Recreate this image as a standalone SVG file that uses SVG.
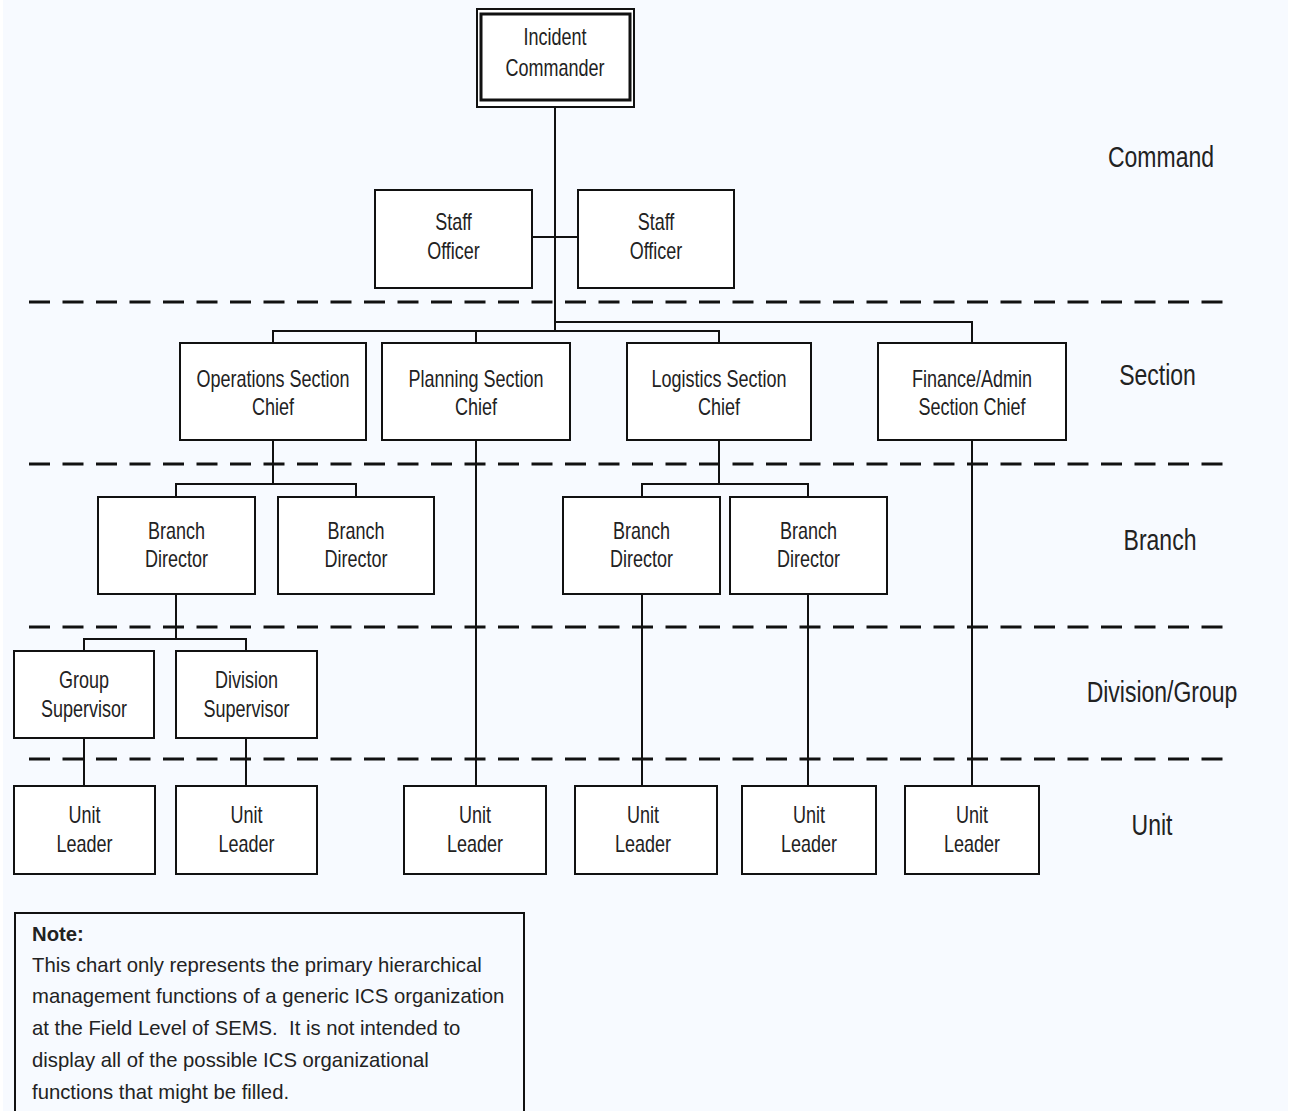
<svg xmlns="http://www.w3.org/2000/svg" width="1293" height="1111" viewBox="0 0 1293 1111">
<style>
.box{fill:#fff;stroke:#111;stroke-width:2}
.ln{fill:none;stroke:#111;stroke-width:2}
.dash{fill:none;stroke:#111;stroke-width:3;stroke-dasharray:21 12.5}
.t{font-family:"Liberation Sans",Arial,sans-serif;font-size:18px;fill:#222;text-anchor:middle}
.lvl{font-family:"Liberation Sans",Arial,sans-serif;font-size:23px;fill:#222;text-anchor:middle}
.note{font-family:"Liberation Sans",Arial,sans-serif;font-size:20.3px;fill:#222}
</style>
<rect x="0" y="0" width="1293" height="1111" fill="#fff"/>
<rect x="3" y="0" width="1285" height="1111" fill="#f7faff"/>

<g id="dashed-levels">
<line class="dash" x1="29" y1="302" x2="1223" y2="302"/>
<line class="dash" x1="29" y1="464" x2="1223" y2="464"/>
<line class="dash" x1="29" y1="627" x2="1223" y2="627"/>
<line class="dash" x1="29" y1="759" x2="1223" y2="759"/>
</g>

<g id="connectors">
<path class="ln" d="M555 107V331"/>
<path class="ln" d="M532 237H578"/>
<path class="ln" d="M555 322H972V343"/>
<path class="ln" d="M273 343V331H719V343"/>
<path class="ln" d="M476 331V343"/>
<path class="ln" d="M273 440V484"/>
<path class="ln" d="M176 497V484H356V497"/>
<path class="ln" d="M719 440V484"/>
<path class="ln" d="M642 497V484H808V497"/>
<path class="ln" d="M476 440V786"/>
<path class="ln" d="M972 440V786"/>
<path class="ln" d="M176 594V639"/>
<path class="ln" d="M84 651V639H246V651"/>
<path class="ln" d="M84 738V786"/>
<path class="ln" d="M246 738V786"/>
<path class="ln" d="M642 594V786"/>
<path class="ln" d="M808 594V786"/>
</g>

<g id="incident-commander">
<rect x="477" y="9" width="157" height="98" fill="#fff" stroke="#111" stroke-width="2"/>
<rect x="481" y="14" width="149" height="86" fill="#fff" stroke="#111" stroke-width="3"/>
<text class="t" transform="translate(555,45) scale(1,1.3)"><tspan x="0" y="0">Incident</tspan><tspan x="0" y="24">Commander</tspan></text>
</g>

<g id="staff-officer-1">
<rect class="box" x="375" y="190" width="157" height="98"/>
<text class="t" transform="translate(453.5,230) scale(1,1.3)"><tspan x="0" y="0">Staff</tspan><tspan x="0" y="22.3">Officer</tspan></text>
</g>
<g id="staff-officer-2">
<rect class="box" x="578" y="190" width="156" height="98"/>
<text class="t" transform="translate(656,230) scale(1,1.3)"><tspan x="0" y="0">Staff</tspan><tspan x="0" y="22.3">Officer</tspan></text>
</g>

<g id="operations-section-chief">
<rect class="box" x="180" y="343" width="186" height="97"/>
<text class="t" transform="translate(273,387) scale(1,1.3)"><tspan x="0" y="0">Operations Section</tspan><tspan x="0" y="21.5">Chief</tspan></text>
</g>
<g id="planning-section-chief">
<rect class="box" x="382" y="343" width="188" height="97"/>
<text class="t" transform="translate(476,387) scale(1,1.3)"><tspan x="0" y="0">Planning Section</tspan><tspan x="0" y="21.5">Chief</tspan></text>
</g>
<g id="logistics-section-chief">
<rect class="box" x="627" y="343" width="184" height="97"/>
<text class="t" transform="translate(719,387) scale(1,1.3)"><tspan x="0" y="0">Logistics Section</tspan><tspan x="0" y="21.5">Chief</tspan></text>
</g>
<g id="finance-admin-section-chief">
<rect class="box" x="878" y="343" width="188" height="97"/>
<text class="t" transform="translate(972,387) scale(1,1.3)"><tspan x="0" y="0">Finance/Admin</tspan><tspan x="0" y="21.5">Section Chief</tspan></text>
</g>

<g id="branch-director-1">
<rect class="box" x="98" y="497" width="157" height="97"/>
<text class="t" transform="translate(176.5,539) scale(1,1.3)"><tspan x="0" y="0">Branch</tspan><tspan x="0" y="21.5">Director</tspan></text>
</g>
<g id="branch-director-2">
<rect class="box" x="278" y="497" width="156" height="97"/>
<text class="t" transform="translate(356,539) scale(1,1.3)"><tspan x="0" y="0">Branch</tspan><tspan x="0" y="21.5">Director</tspan></text>
</g>
<g id="branch-director-3">
<rect class="box" x="563" y="497" width="157" height="97"/>
<text class="t" transform="translate(641.5,539) scale(1,1.3)"><tspan x="0" y="0">Branch</tspan><tspan x="0" y="21.5">Director</tspan></text>
</g>
<g id="branch-director-4">
<rect class="box" x="730" y="497" width="157" height="97"/>
<text class="t" transform="translate(808.5,539) scale(1,1.3)"><tspan x="0" y="0">Branch</tspan><tspan x="0" y="21.5">Director</tspan></text>
</g>

<g id="group-supervisor">
<rect class="box" x="14" y="651" width="140" height="87"/>
<text class="t" transform="translate(84,688) scale(1,1.3)"><tspan x="0" y="0">Group</tspan><tspan x="0" y="22.3">Supervisor</tspan></text>
</g>
<g id="division-supervisor">
<rect class="box" x="176" y="651" width="141" height="87"/>
<text class="t" transform="translate(246.5,688) scale(1,1.3)"><tspan x="0" y="0">Division</tspan><tspan x="0" y="22.3">Supervisor</tspan></text>
</g>

<g id="unit-leader-1">
<rect class="box" x="14" y="786" width="141" height="88"/>
<text class="t" transform="translate(84.5,823) scale(1,1.3)"><tspan x="0" y="0">Unit</tspan><tspan x="0" y="22.3">Leader</tspan></text>
</g>
<g id="unit-leader-2">
<rect class="box" x="176" y="786" width="141" height="88"/>
<text class="t" transform="translate(246.5,823) scale(1,1.3)"><tspan x="0" y="0">Unit</tspan><tspan x="0" y="22.3">Leader</tspan></text>
</g>
<g id="unit-leader-3">
<rect class="box" x="404" y="786" width="142" height="88"/>
<text class="t" transform="translate(475,823) scale(1,1.3)"><tspan x="0" y="0">Unit</tspan><tspan x="0" y="22.3">Leader</tspan></text>
</g>
<g id="unit-leader-4">
<rect class="box" x="575" y="786" width="142" height="88"/>
<text class="t" transform="translate(643,823) scale(1,1.3)"><tspan x="0" y="0">Unit</tspan><tspan x="0" y="22.3">Leader</tspan></text>
</g>
<g id="unit-leader-5">
<rect class="box" x="742" y="786" width="134" height="88"/>
<text class="t" transform="translate(809,823) scale(1,1.3)"><tspan x="0" y="0">Unit</tspan><tspan x="0" y="22.3">Leader</tspan></text>
</g>
<g id="unit-leader-6">
<rect class="box" x="905" y="786" width="134" height="88"/>
<text class="t" transform="translate(972,823) scale(1,1.3)"><tspan x="0" y="0">Unit</tspan><tspan x="0" y="22.3">Leader</tspan></text>
</g>

<g id="level-labels">
<text class="lvl" transform="translate(1161,167) scale(1,1.3)">Command</text>
<text class="lvl" transform="translate(1157.5,385) scale(1,1.3)">Section</text>
<text class="lvl" transform="translate(1160,550) scale(1,1.3)">Branch</text>
<text class="lvl" transform="translate(1162,702) scale(1,1.3)">Division/Group</text>
<text class="lvl" transform="translate(1152,835) scale(1,1.3)">Unit</text>
</g>

<g id="note">
<rect x="15" y="913" width="509" height="230" fill="none" stroke="#111" stroke-width="2"/>
<text class="note" x="32" y="941" font-weight="bold">Note:</text>
<text class="note" x="32" y="972">This chart only represents the primary hierarchical</text>
<text class="note" x="32" y="1003">management functions of a generic ICS organization</text>
<text class="note" x="32" y="1035">at the Field Level of SEMS.&#160; It is not intended to</text>
<text class="note" x="32" y="1067">display all of the possible ICS organizational</text>
<text class="note" x="32" y="1099">functions that might be filled.</text>
</g>
</svg>
